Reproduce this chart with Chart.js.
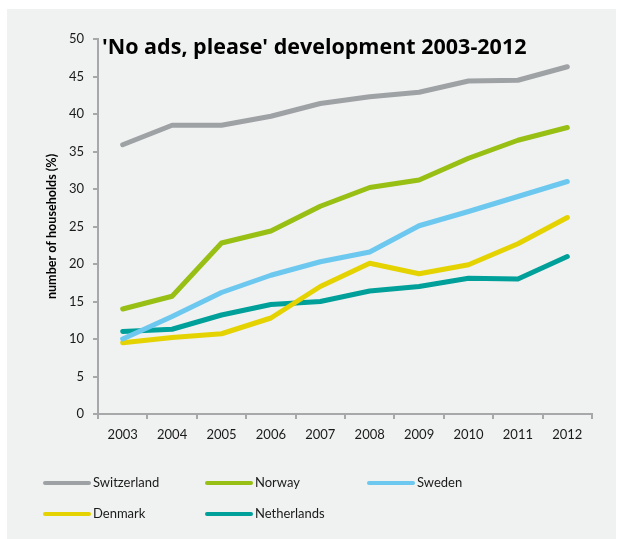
<!DOCTYPE html>
<html>
<head>
<meta charset="utf-8">
<script src="https://cdn.jsdelivr.net/npm/chart.js@4/dist/chart.umd.min.js"></script>
<style>
  html, body { margin: 0; padding: 0; background: #ffffff; }
  #wrap { width: 618px; height: 539px; }
</style>
</head>
<body>
<div id="wrap"><canvas id="c" width="618" height="539"></canvas></div>
<script>
// Share of households refusing unaddressed ads, 2003-2012
const years = ['2003', '2004', '2005', '2006', '2007', '2008', '2009', '2010', '2011', '2012'];
const switzerland = [35.9, 38.5, 38.5, 39.7, 41.4, 42.3, 42.9, 44.4, 44.5, 46.3];
const norway      = [14.0, 15.7, 22.8, 24.4, 27.7, 30.2, 31.2, 34.1, 36.5, 38.2];
const sweden      = [10.0, 13.0, 16.2, 18.5, 20.3, 21.6, 25.1, 27.0, 29.0, 31.0];
const denmark     = [9.5, 10.2, 10.7, 12.8, 17.0, 20.1, 18.7, 19.9, 22.7, 26.2];
const netherlands = [11.0, 11.3, 13.2, 14.6, 15.0, 16.4, 17.0, 18.1, 18.0, 21.0];
const seriesNames = ['Switzerland', 'Norway', 'Sweden', 'Denmark', 'Netherlands'];
const yTicks = [0, 5, 10, 15, 20, 25, 30, 35, 40, 45, 50];

const titleText = "'No ads, please' development 2003-2012";
const yTitle = 'number of households (%)';

const FONT = 'Lato, "Open Sans", sans-serif';
const TITLE_FONT = '"Open Sans", Lato, sans-serif';
const AXIS = '#a6a8aa';
const TEXT = '#1a1a1a';
const colors = ['#9fa2a5', '#98bf14', '#6cc8ef', '#e4d300', '#00a09a'];
const values = [switzerland, norway, sweden, denmark, netherlands];

// light panel behind the whole figure
const panel = {
  id: 'panel',
  beforeDraw(chart) {
    const ctx = chart.ctx;
    ctx.save();
    ctx.fillStyle = '#ffffff';
    ctx.fillRect(0, 0, chart.width, chart.height);
    ctx.fillStyle = '#f0f1f1';
    ctx.fillRect(7, 9, 609, 530);
    ctx.restore();
  }
};

// title sits inside the plot area, top-left
const innerTitle = {
  id: 'innerTitle',
  afterDraw(chart) {
    const ctx = chart.ctx;
    const a = chart.chartArea;
    ctx.save();
    ctx.font = 'bold 21.5px ' + TITLE_FONT;
    ctx.fillStyle = '#000000';
    ctx.textAlign = 'left';
    ctx.textBaseline = 'alphabetic';
    ctx.fillText(titleText, a.left + 4, a.top + 15);
    ctx.restore();
  }
};

// two-row legend with line swatches, laid out in three columns
const gridLegend = {
  id: 'gridLegend',
  afterDraw(chart) {
    const ctx = chart.ctx;
    const colX = [45, 207, 369];
    const rowY = [483, 514];
    ctx.save();
    ctx.font = '13px ' + FONT;
    ctx.textBaseline = 'middle';
    ctx.textAlign = 'left';
    chart.data.datasets.forEach((ds, i) => {
      const x = colX[i % 3];
      const y = rowY[Math.floor(i / 3)];
      ctx.strokeStyle = ds.borderColor;
      ctx.lineWidth = 4;
      ctx.lineCap = 'round';
      ctx.beginPath();
      ctx.moveTo(x, y);
      ctx.lineTo(x + 44, y);
      ctx.stroke();
      ctx.fillStyle = TEXT;
      ctx.fillText(ds.label, x + 48, y);
    });
    ctx.restore();
  }
};

new Chart(document.getElementById('c'), {
  type: 'line',
  data: {
    labels: years,
    datasets: seriesNames.map((name, i) => ({
      label: name,
      data: values[i],
      borderColor: colors[i],
      backgroundColor: colors[i],
      borderWidth: 5,
      borderCapStyle: 'round',
      borderJoinStyle: 'round',
      pointRadius: 0,
      tension: 0,
      fill: false
    }))
  },
  options: {
    responsive: false,
    animation: false,
    events: [],
    layout: { padding: { left: 44, right: 26, top: 39, bottom: 0 } },
    plugins: {
      legend: { display: false },
      title: { display: false },
      tooltip: { enabled: false }
    },
    scales: {
      x: {
        type: 'category',
        offset: true,
        afterFit(scale) { scale.height = 125; },
        grid: {
          offset: true,
          drawOnChartArea: false,
          drawTicks: true,
          tickLength: 5,
          color: AXIS,
          lineWidth: 2
        },
        border: { color: AXIS, width: 2 },
        ticks: {
          color: TEXT,
          font: { family: FONT, size: 13 },
          padding: 8,
          maxRotation: 0
        }
      },
      y: {
        min: 0,
        max: 50,
        afterFit(scale) { scale.width = 54; },
        afterBuildTicks(scale) { scale.ticks = yTicks.map(v => ({ value: v })); },
        grid: {
          drawOnChartArea: false,
          drawTicks: true,
          tickLength: 5,
          color: AXIS,
          lineWidth: 2
        },
        border: { color: AXIS, width: 2 },
        ticks: {
          color: TEXT,
          font: { family: FONT, size: 13 },
          padding: 9
        },
        title: {
          display: true,
          text: yTitle,
          color: '#000000',
          font: { family: FONT, size: 12.6, weight: 'bold' },
          padding: { top: 0, bottom: 0 }
        }
      }
    }
  },
  plugins: [panel, innerTitle, gridLegend]
});
</script>
</body>
</html>
